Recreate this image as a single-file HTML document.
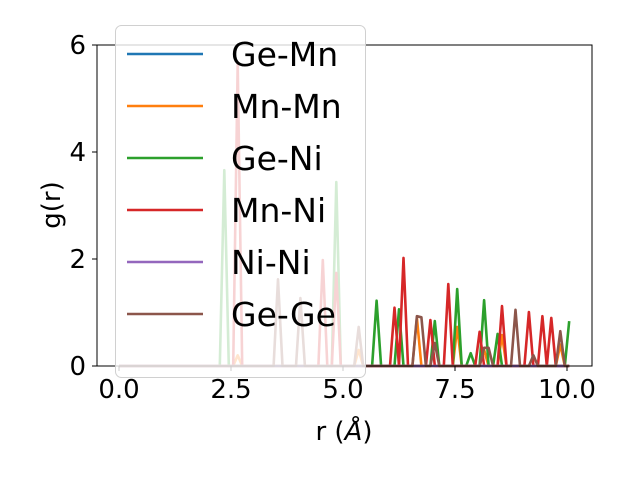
<!DOCTYPE html>
<html><head><meta charset="utf-8"><style>
body{margin:0;background:#fff;}
svg{display:block;font-family:"DejaVu Sans","Liberation Sans",sans-serif;}
</style></head><body>
<svg id="chart" width="640" height="480" viewBox="0 0 640 480">
<g id="plot"></g>
<rect x="97" y="45" width="495" height="321" fill="none" stroke="#000" stroke-width="1"/>
<g id="ticks"></g>
<text x="344" y="440" font-size="26" text-anchor="middle">r (<tspan font-style="italic">Å</tspan>)</text>
<text transform="translate(60,205) rotate(-90)" font-size="26" text-anchor="middle">g(r)</text>
<g id="legend"></g>
</svg>
<script>
const seriesNames = ["Ge-Mn","Mn-Mn","Ge-Ni","Mn-Ni","Ni-Ni","Ge-Ge"];
const seriesColors = ["#1f77b4","#ff7f0e","#2ca02c","#d62728","#9467bd","#8c564b"];
const geMnR = [], geMnV = [];
const mnMnR = [2.65, 5.35, 6.65, 7.55, 8.15, 8.55, 9.85];
const mnMnV = [0.2, 0.3, 0.9, 0.73, 0.3, 0.58, 0.4];
const geNiR = [2.35, 4.85, 5.75, 6.25, 7.05, 7.55, 7.85, 8.15, 8.45, 10.05];
const geNiV = [3.66, 3.44, 1.22, 1.06, 0.84, 1.44, 0.24, 1.23, 0.6, 0.84];
const mnNiR = [2.65, 4.55, 4.85, 6.15, 6.35, 6.95, 7.35, 8.05, 8.55, 9.15, 9.45, 9.65];
const mnNiV = [5.66, 1.98, 1.74, 1.09, 2.02, 0.86, 1.53, 0.64, 1.12, 1.01, 0.93, 0.9];
const niNiR = [], niNiV = [];
const geGeR = [3.55, 4.05, 5.35, 6.65, 6.75, 7.05, 8.15, 8.25, 8.85, 9.25, 9.85];
const geGeV = [1.62, 1.27, 0.73, 0.93, 0.91, 0.43, 0.34, 0.34, 1.05, 0.2, 0.65];
const xTicks = [0, 2.5, 5, 7.5, 10];
const xTickLabels = ["0.0","2.5","5.0","7.5","10.0"];
const yTicks = [0, 2, 4, 6];
const yTickLabels = ["0","2","4","6"];
const rMin = 0, rMax = 10.05;

const X = r => 119 + r * 44.8;
const Y = v => 366 - v * 53.5;
const NS = "http://www.w3.org/2000/svg";
const plot = document.getElementById("plot");
const allR = [geMnR, mnMnR, geNiR, mnNiR, niNiR, geGeR];
const allV = [geMnV, mnMnV, geNiV, mnNiV, niNiV, geGeV];

function buildPoints(rs, vs) {
  const pts = [[rMin, 0]];
  rs.forEach((r, i) => {
    pts.push([r - 0.1, 0]);
    pts.push([r, vs[i]]);
    if (r + 0.1 <= rMax + 1e-6) pts.push([r + 0.1, 0]);
  });
  const out = [];
  pts.sort((a, b) => a[0] - b[0]).forEach(p => {
    const l = out[out.length - 1];
    if (l && Math.abs(l[0] - p[0]) < 1e-6) { if (p[1] > l[1]) l[1] = p[1]; }
    else out.push(p.slice());
  });
  if (out[out.length - 1][0] < rMax - 1e-6) out.push([rMax, 0]);
  return out;
}

allR.forEach((rs, s) => {
  const pts = buildPoints(rs, allV[s]);
  const pl = document.createElementNS(NS, "polyline");
  pl.setAttribute("points", pts.map(p => X(p[0]).toFixed(1) + "," + Y(p[1]).toFixed(1)).join(" "));
  pl.setAttribute("fill", "none");
  pl.setAttribute("stroke", seriesColors[s]);
  pl.setAttribute("stroke-width", "2.6");
  pl.setAttribute("stroke-linejoin", "round");
  
  
  plot.appendChild(pl);
});

const ticks = document.getElementById("ticks");
xTicks.forEach((t, i) => {
  const l = document.createElementNS(NS, "line");
  l.setAttribute("x1", X(t)); l.setAttribute("x2", X(t));
  l.setAttribute("y1", 366); l.setAttribute("y2", 371);
  l.setAttribute("stroke", "#000");
  
  
  ticks.appendChild(l);
  const tx = document.createElementNS(NS, "text");
  tx.setAttribute("x", X(t)); tx.setAttribute("y", 398);
  tx.setAttribute("font-size", "26"); tx.setAttribute("text-anchor", "middle");
  tx.textContent = xTickLabels[i];
  
  
  ticks.appendChild(tx);
});
yTicks.forEach((t, i) => {
  const l = document.createElementNS(NS, "line");
  l.setAttribute("x1", 92); l.setAttribute("x2", 97);
  l.setAttribute("y1", Y(t)); l.setAttribute("y2", Y(t));
  l.setAttribute("stroke", "#000");
  
  
  ticks.appendChild(l);
  const tx = document.createElementNS(NS, "text");
  tx.setAttribute("x", 86); tx.setAttribute("y", Y(t) + 9);
  tx.setAttribute("font-size", "26"); tx.setAttribute("text-anchor", "end");
  tx.textContent = yTickLabels[i];
  
  
  ticks.appendChild(tx);
});

const lg = document.getElementById("legend");
const box = document.createElementNS(NS, "rect");
box.setAttribute("x", 115.5); box.setAttribute("y", 25.5);
box.setAttribute("width", 250); box.setAttribute("height", 352);
box.setAttribute("rx", 6);
box.setAttribute("fill", "rgba(255,255,255,0.8)");
box.setAttribute("stroke", "#d0d0d0");


lg.appendChild(box);
seriesNames.forEach((n, i) => {
  const y = 54 + i * 52;
  const l = document.createElementNS(NS, "line");
  l.setAttribute("x1", 127); l.setAttribute("x2", 203);
  l.setAttribute("y1", y); l.setAttribute("y2", y);
  l.setAttribute("stroke", seriesColors[i]); l.setAttribute("stroke-width", "2.6");
  
  
  lg.appendChild(l);
  const t = document.createElementNS(NS, "text");
  t.setAttribute("x", 231); t.setAttribute("y", y + 12);
  t.setAttribute("font-size", "33");
  t.textContent = n;
  
  
  lg.appendChild(t);
});
</script>
</body></html>
